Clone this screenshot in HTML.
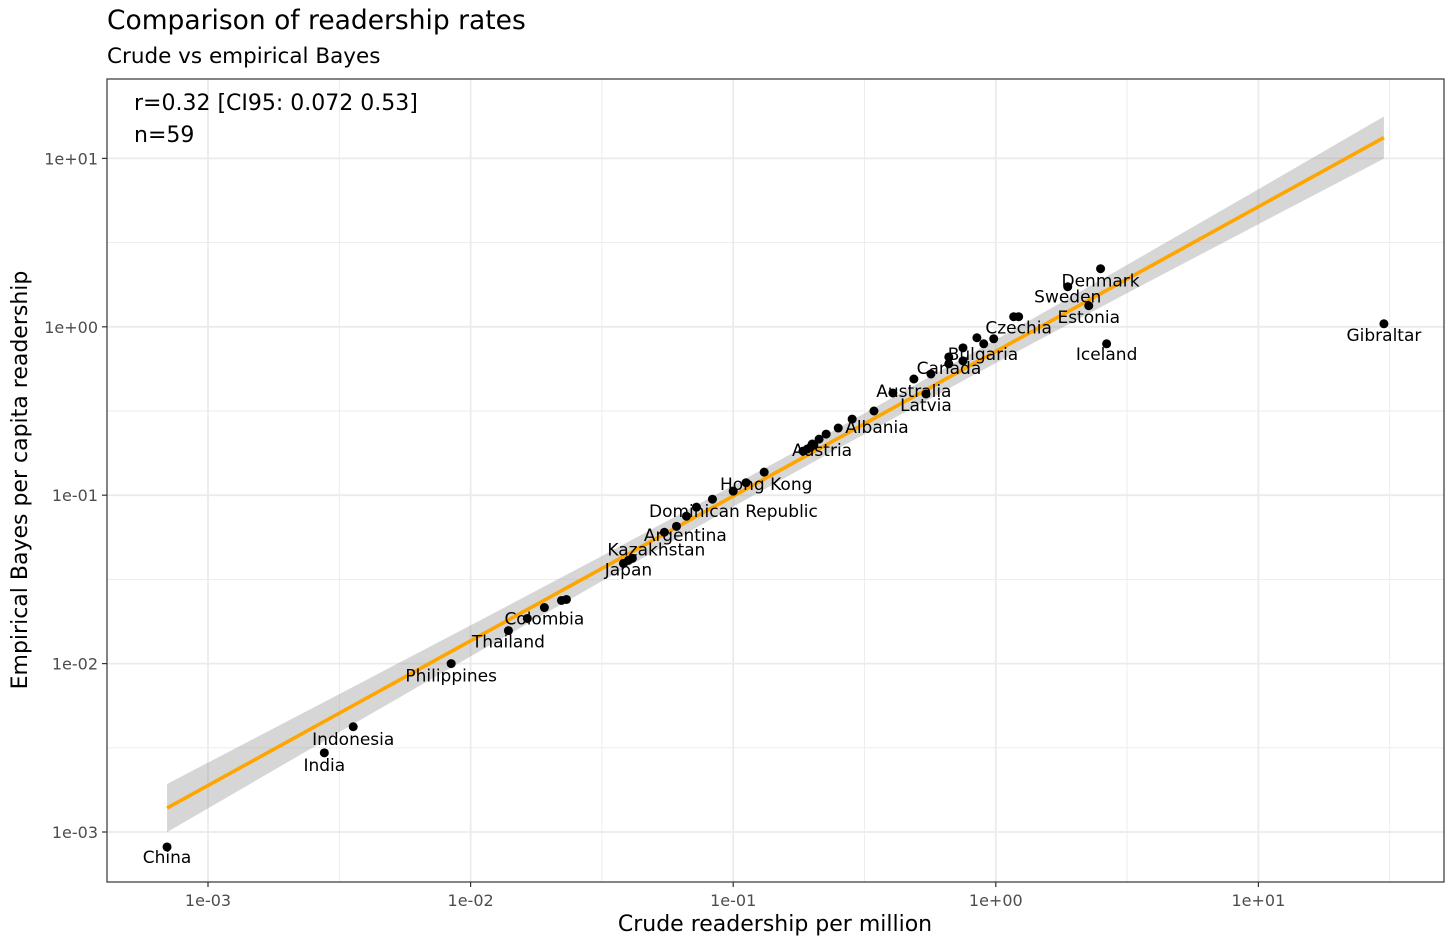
<!DOCTYPE html>
<html><head><meta charset="utf-8"><style>
body{margin:0;background:#fff;font-family:"DejaVu Sans","Liberation Sans",sans-serif}
svg text{font-family:"DejaVu Sans","Liberation Sans",sans-serif}
</style></head><body>
<svg id="chart" width="1456" height="946" xmlns="http://www.w3.org/2000/svg">
<text x="107" y="29" font-size="26.5" fill="#000">Comparison of readership rates</text>
<text x="107" y="63" font-size="21.5" fill="#000">Crude vs empirical Bayes</text>
<g id="grid"></g>
<g id="band"></g>
<g id="points"></g>
<g id="labels"></g>
<rect x="107" y="79" width="1337" height="803" fill="none" stroke="#333" stroke-width="1.2"/>
<g id="axes"></g>
<text x="134" y="110" font-size="22" fill="#000">r=0.32 [CI95: 0.072 0.53]</text>
<text x="134" y="142" font-size="22" fill="#000">n=59</text>
<text x="775" y="931" font-size="22" text-anchor="middle" fill="#000">Crude readership per million</text>
<text transform="translate(27,480) rotate(-90)" font-size="22" text-anchor="middle" fill="#000">Empirical Bayes per capita readership</text>
</svg>
<script>
const xTickLabels=["1e-03","1e-02","1e-01","1e+00","1e+01"];
const xTickValues=[-3,-2,-1,0,1];
const yTickLabels=["1e-03","1e-02","1e-01","1e+00","1e+01"];
const yTickValues=[-3,-2,-1,0,1];
// log10 values of points
const pointX=[-3.156,-2.557,-2.447,-2.074,-1.856,-1.784,-1.719,-1.654,-1.635,-1.418,-1.399,-1.384,-1.262,-1.216,-1.178,-1.140,-1.079,-1.000,-0.951,-0.882,-0.699,-0.673,-0.646,-0.600,-0.547,-0.464,-0.392,-0.266,-0.312,-0.247,-0.179,-0.179,-0.125,-0.125,-0.072,-0.046,-0.008,0.068,0.087,0.274,0.354,0.399,0.422,1.478,-0.693,-0.705,-0.718,-0.734];
const pointY=[-3.089,-2.530,-2.375,-2.000,-1.804,-1.732,-1.667,-1.625,-1.619,-1.405,-1.387,-1.375,-1.220,-1.185,-1.125,-1.071,-1.024,-0.976,-0.926,-0.863,-0.696,-0.667,-0.637,-0.601,-0.548,-0.500,-0.393,-0.399,-0.310,-0.280,-0.220,-0.179,-0.202,-0.125,-0.065,-0.101,-0.071,0.060,0.060,0.238,0.125,0.345,-0.101,0.018,-0.702,-0.714,-0.726,-0.738];
const labelNames=["China","India","Indonesia","Philippines","Thailand","Colombia","Japan","Kazakhstan","Argentina","Dominican Republic","Hong Kong","Austria","Albania","Latvia","Australia","Canada","Bulgaria","Czechia","Estonia","Sweden","Denmark","Iceland","Gibraltar"];
const labelIdx=[0,1,2,3,4,6,9,11,12,15,19,21,25,27,28,29,33,38,40,39,41,42,43];
const labelDx=[0,0,0,0,0,0,5,24,21,37,2,3,3,0,0,18,20,0,0,0,0,0,0];
const labelDy=[16,18,18,18,17,17,12,-3,9,10,18,17,22,17,18,0,12,17,17,16,18,16,17];
const fitX=[-3.156,1.478];
const fitY=[-2.858,1.124];
const bandX=[-3.156,-2.5,-2,-1.5,-1,-0.645,0,0.5,1,1.478];
const bandLo=[-3.001,-2.407,-1.957,-1.510,-1.068,-0.760,-0.215,0.200,0.609,0.999];
const bandHi=[-2.715,-2.181,-1.773,-1.361,-0.942,-0.640,-0.077,0.368,0.817,1.249];

const NS="http://www.w3.org/2000/svg";
const px=v=>208+(v+3)*262.6;
const py=v=>832-(v+3)*168.4;
function mk(tag,attrs,parent){const e=document.createElementNS(NS,tag);for(const k in attrs)e.setAttribute(k,attrs[k]);parent.appendChild(e);return e;}
const grid=document.getElementById('grid'),axes=document.getElementById('axes');
for(let v=-3.5;v<=1.5;v+=0.5){
  const major=Number.isInteger(v);
  const x=px(v);
  if(x>107&&x<1444){const l=mk('line',{x1:x,x2:x,y1:79,y2:882,stroke:'#ebebeb','stroke-width':major?1.8:0.9},grid);
  
  }
  const y=py(v);
  if(y>79&&y<882){const l=mk('line',{x1:107,x2:1444,y1:y,y2:y,stroke:'#ebebeb','stroke-width':major?1.8:0.9},grid);
  
  }
}
xTickValues.forEach((v,i)=>{const x=px(v);
  const t=mk('line',{x1:x,x2:x,y1:882,y2:887,stroke:'#333','stroke-width':1.2},axes);
  
  
  const tx=mk('text',{x:x,y:906,'font-size':16,fill:'#4d4d4d','text-anchor':'middle'},axes);tx.textContent=xTickLabels[i];
  
  });
yTickValues.forEach((v,i)=>{const y=py(v);
  const t=mk('line',{x1:102,x2:107,y1:y,y2:y,stroke:'#333','stroke-width':1.2},axes);
  
  
  const tx=mk('text',{x:98,y:y+6,'font-size':16,fill:'#4d4d4d','text-anchor':'end'},axes);tx.textContent=yTickLabels[i];
  
  });
const band=document.getElementById('band');
let bp=bandX.map((x,i)=>px(x)+','+py(bandLo[i]));
for(let i=bandX.length-1;i>=0;i--)bp.push(px(bandX[i])+','+py(bandHi[i]));
const poly=mk('polygon',{points:bp.join(' '),fill:'#999','fill-opacity':0.4},band);


const pts=document.getElementById('points');
pointX.forEach((v,i)=>{const c=mk('circle',{cx:px(v),cy:py(pointY[i]),r:4.5,fill:'#000'},pts);
  
  });
const fl=document.createElementNS(NS,'line');
[['x1',px(fitX[0])],['y1',py(fitY[0])],['x2',px(fitX[1])],['y2',py(fitY[1])],['stroke','#FFA500'],['stroke-width',3.6]].forEach(a=>fl.setAttribute(a[0],a[1]));
band.parentNode.insertBefore(fl,pts);


const lab=document.getElementById('labels');
labelNames.forEach((n,i)=>{const k=labelIdx[i];
  const t=mk('text',{x:px(pointX[k])+labelDx[i],y:py(pointY[k])+labelDy[i],'font-size':17,fill:'#000','text-anchor':'middle'},lab);
  t.textContent=n;
  
  });
</script>
</body></html>
